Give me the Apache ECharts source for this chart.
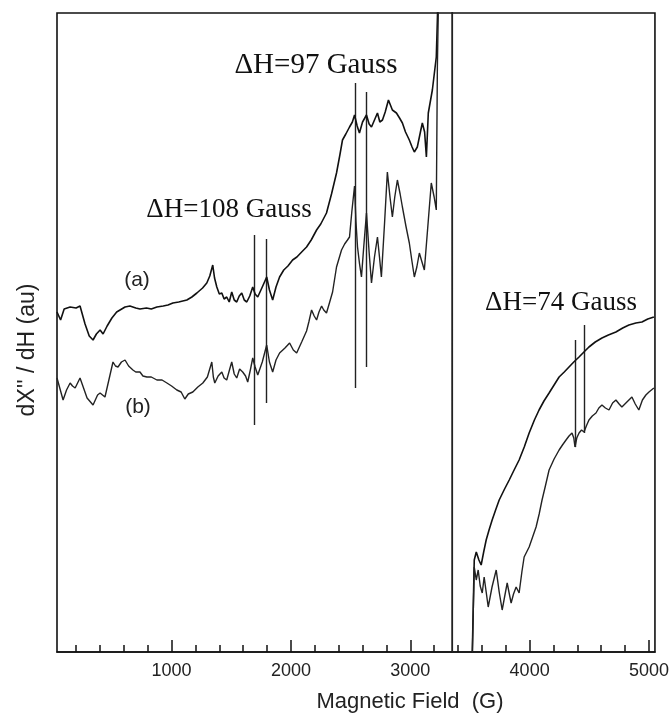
<!DOCTYPE html>
<html>
<head>
<meta charset="utf-8">
<script src="https://cdn.jsdelivr.net/npm/echarts@6/dist/echarts.min.js"></script>
<style>html,body{margin:0;padding:0;background:#fff}#chart{width:672px;height:716px}</style>
</head>
<body>
<div id="chart"></div>
<script>
// Magnetic field (G) and derivative signal (arbitrary units) for spectrum (a)
const fieldA = [40,70,100,150,200,233,275,310,342,370,401,426,460,500,540,568,610,651,700,735,790,830,877,930,970,1011,1060,1128,1170,1212,1260,1295,1320,1345,1360,1379,1400,1421,1440,1462,1483,1504,1525,1546,1567,1588,1609,1630,1655,1680,1700,1722,1760,1797,1820,1847,1875,1905,1940,1975,2014,2050,2090,2131,2170,2215,2250,2298,2340,2382,2410,2432,2460,2491,2515,2533,2555,2574,2600,2633,2655,2675,2700,2725,2745,2767,2790,2817,2850,2884,2910,2934,2960,2992,3015,3034,3059,3085,3101,3120,3135,3151,3185,3218,3227,3243,3352,3352,3511,3536,3553,3575,3594,3615,3636,3660,3686,3715,3745,3790,3829,3870,3912,3955,3996,4040,4079,4120,4163,4205,4247,4290,4330,4370,4414,4455,4497,4550,4606,4660,4723,4780,4832,4890,4941,4990,5041];
const signalA = [340,332,343,345,344,346,328,316,312,318,322,318,326,334,340,342,345,346,344,343,344,343,345,346,347,349,350,352,355,359,364,369,376,387,374,365,358,359,353,355,350,360,352,350,356,359,352,350,356,365,358,355,365,375,362,352,365,375,382,386,392,395,400,405,412,422,428,439,458,479,497,512,518,525,530,537,526,519,530,537,528,525,532,539,530,532,540,552,542,539,534,529,520,512,505,500,505,520,529,520,495,539,562,595,632,700,700,-50,-50,92,100,92,87,100,112,122,132,142,152,163,172,182,192,205,219,232,242,251,259,267,275,280,285,290,295,300,305,310,314,317,320,324,327,329,330,333,335];

// Spectrum (b)
const fieldB = [40,91,120,150,170,192,233,292,342,380,401,442,509,530,551,580,610,640,676,700,735,760,793,830,877,920,961,1000,1044,1080,1111,1140,1178,1220,1262,1300,1337,1350,1362,1390,1421,1440,1462,1485,1504,1525,1546,1570,1596,1620,1638,1660,1680,1700,1722,1760,1797,1820,1847,1875,1905,1950,1989,2020,2048,2090,2131,2150,2173,2195,2215,2235,2257,2275,2298,2325,2349,2382,2424,2450,2474,2491,2510,2533,2545,2558,2575,2591,2610,2633,2655,2675,2700,2725,2742,2758,2785,2808,2830,2850,2870,2892,2915,2934,2965,2992,3015,3034,3055,3076,3098,3118,3150,3176,3200,3218,3227,3243,3352,3352,3511,3536,3553,3569,3586,3603,3619,3636,3653,3685,3720,3745,3770,3790,3812,3830,3845,3865,3887,3912,3935,3954,3975,3996,4025,4054,4080,4104,4130,4163,4205,4247,4275,4305,4330,4355,4370,4380,4395,4414,4435,4456,4475,4497,4525,4556,4580,4606,4635,4665,4695,4723,4750,4773,4815,4857,4885,4915,4945,4974,5000,5041];
const signalB = [274,252,262,269,266,264,274,254,247,257,259,255,290,286,285,290,292,286,282,280,280,276,275,275,272,272,269,266,262,260,253,258,260,265,269,275,290,275,269,276,280,274,272,282,290,278,274,283,280,276,270,282,294,285,277,290,307,290,280,292,299,304,309,302,299,310,321,330,342,336,332,340,346,342,339,350,360,385,402,408,412,415,440,466,430,405,388,375,405,439,400,369,395,415,395,375,430,480,455,435,455,472,458,445,425,409,390,375,385,399,390,382,430,469,455,442,585,700,700,-50,-50,85,72,82,66,59,75,60,45,65,82,60,42,55,69,58,49,58,65,59,80,95,100,105,115,125,138,152,165,182,193,202,207,212,216,219,214,205,214,219,222,220,226,232,236,239,244,247,244,242,249,252,248,245,250,255,248,242,252,257,260,264];

// ΔH marker lines (field, top, bottom)
const markerField  = [1696, 1797, 2540, 2633, 4380, 4455];
const markerTop    = [417, 413, 569, 560, 312, 327];
const markerBottom = [227, 249, 264, 285, 205, 219];

// Axis ticks
const majorTicks = [1000, 2000, 3000, 4000, 5000];
const minorTicks = [200,400,600,800,1200,1400,1600,1800,2200,2400,2600,2800,3200,3400,3600,3800,4200,4400,4600,4800];

const zip = (xs, ys) => xs.map((x, i) => [x, ys[i]]);
const markerData = markerField.map((x, i) => ({ coords: [[x, markerTop[i]], [x, markerBottom[i]]] }));

const chart = echarts.init(document.getElementById('chart'), null, { renderer: 'canvas' });
const sans = '"Liberation Sans", Arial, sans-serif';
const serif = '"Liberation Serif", "Times New Roman", serif';
const txt = (text, x, y, font, fill, extra) => Object.assign({
  type: 'text', x: x, y: y,
  style: { text: text, font: font, fill: fill, textAlign: 'center', textVerticalAlign: 'middle', align: 'center', verticalAlign: 'middle' }
}, extra || {});

chart.setOption({
  animation: false,
  backgroundColor: '#fff',
  grid: { left: 57, right: 16, top: 13, bottom: 64, show: true, borderColor: '#111', borderWidth: 1.6, backgroundColor: 'transparent' },
  xAxis: [
    {
      type: 'value', min: 40, max: 5050,
      axisLine: { show: true, lineStyle: { color: '#111', width: 1.6 } },
      axisTick: { show: true, inside: true, length: 12, customValues: majorTicks, lineStyle: { color: '#111', width: 1.5 } },
      axisLabel: { show: true, customValues: majorTicks, formatter: v => String(v), fontFamily: sans, fontSize: 18, color: '#222', margin: 10 },
      splitLine: { show: false }
    },
    {
      type: 'value', min: 40, max: 5050, position: 'bottom',
      axisLine: { show: false },
      axisTick: { show: true, inside: true, length: 7, customValues: minorTicks, lineStyle: { color: '#111', width: 1.5 } },
      axisLabel: { show: false },
      splitLine: { show: false }
    }
  ],
  yAxis: {
    type: 'value', min: 0, max: 639,
    axisLine: { show: false }, axisTick: { show: false }, axisLabel: { show: false }, splitLine: { show: false }
  },
  series: [
    { type: 'line', name: '(a)', data: zip(fieldA, signalA), showSymbol: false, symbol: 'none', clip: true,
      lineStyle: { color: '#111', width: 1.6 } },
    { type: 'line', name: '(b)', data: zip(fieldB, signalB), showSymbol: false, symbol: 'none', clip: true,
      lineStyle: { color: '#222', width: 1.4 } },
    { type: 'lines', coordinateSystem: 'cartesian2d', data: markerData, symbol: 'none',
      lineStyle: { color: '#222', width: 1.4, opacity: 1 } }
  ],
  graphic: [
    txt('ΔH=108 Gauss', 229, 210, '27px ' + serif, '#111'),
    txt('ΔH=97 Gauss', 316, 65, '29px ' + serif, '#111'),
    txt('ΔH=74 Gauss', 561, 303, '27px ' + serif, '#111'),
    txt('(a)', 137, 280, '21px ' + sans, '#222'),
    txt('(b)', 138, 407, '21px ' + sans, '#222'),
    txt('Magnetic Field  (G)', 410, 702, '22px ' + sans, '#222'),
    txt("dX'' / dH (au)", 28, 350, '23px ' + sans, '#222', { rotation: Math.PI / 2 })
  ]
});
</script>
</body>
</html>
